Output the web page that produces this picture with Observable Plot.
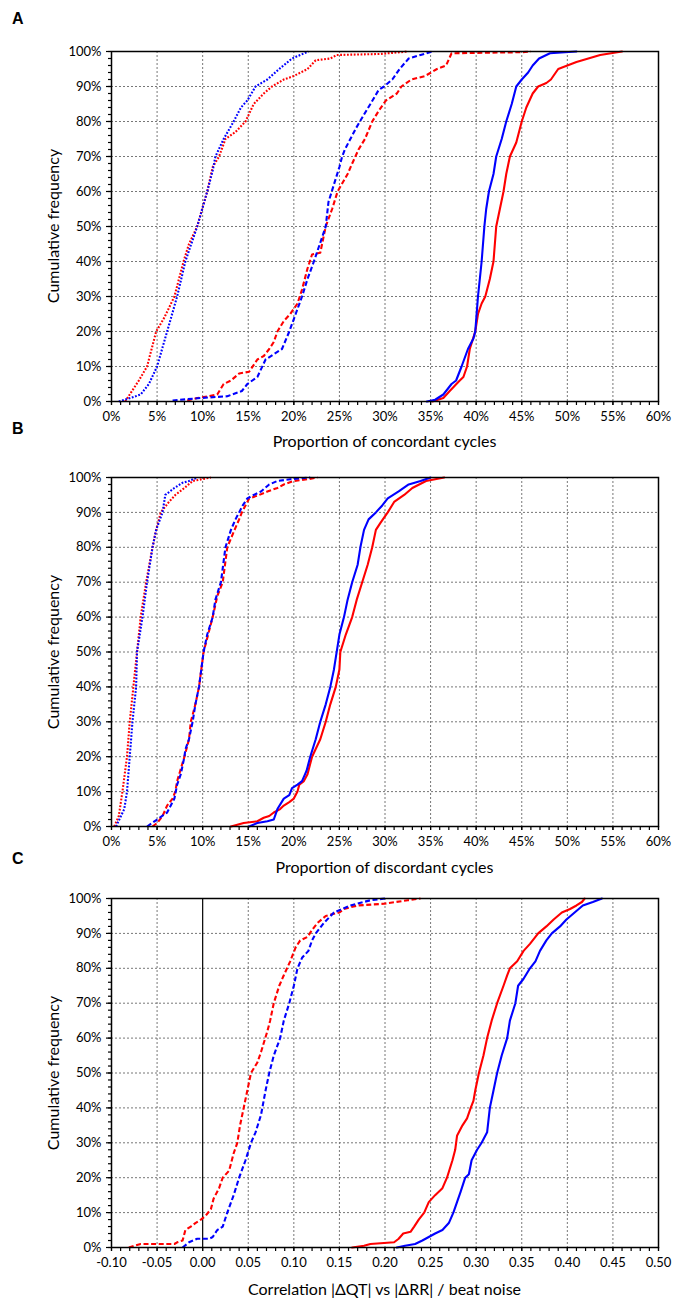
<!DOCTYPE html>
<html>
<head>
<meta charset="utf-8">
<script src="https://cdn.jsdelivr.net/npm/d3@7"></script>
<script src="https://cdn.jsdelivr.net/npm/@observablehq/plot@0.6"></script>
<style>
  html, body { margin: 0; padding: 0; background: #fff; }
  #root { position: relative; width: 673px; height: 1299px; overflow: hidden; font-family: Lato, "Open Sans", sans-serif; }
  .panel { position: absolute; left: 0; width: 673px; }
  .letter { position: absolute; left: 12px; font-family: "Liberation Sans", Arial, sans-serif; font-weight: bold; font-size: 16px; color: #000; line-height: 1; }
  .xtitle { position: absolute; left: 384.5px; transform: translate(-50%, -50%); font-size: 16px; color: #000; white-space: nowrap; line-height: 1; }
  .ytitle { position: absolute; left: 53px; transform: translate(-50%, -50%) rotate(-90deg); font-size: 16px; color: #000; white-space: nowrap; line-height: 1; }
</style>
</head>
<body>
<div id="root"></div>
<script>
// ---------- tick values ----------
const yMajor = [0, 10, 20, 30, 40, 50, 60, 70, 80, 90, 100];
const xMajorPct = [0, 5, 10, 15, 20, 25, 30, 35, 40, 45, 50, 55, 60];
const xMajorCorr = [-0.10, -0.05, 0.00, 0.05, 0.10, 0.15, 0.20, 0.25, 0.30, 0.35, 0.40, 0.45, 0.50];

// ---------- Panel A: proportion of concordant cycles (x %, cumulative %) ----------
const aRedDotted = [[1.5,0],[2,2],[3,6],[3.9,10],[4.9,20],[5.8,24],[6.9,30],[7.9,40],[8.5,45],[9.4,50],[10.5,60],[11.1,67],[11.8,70],[12.5,75],[13.6,77],[14.7,80],[15.6,85],[16.7,88],[17.6,90],[18.9,92],[20,93],[21.5,95],[22.4,97.5],[24,98],[24.7,99],[29.5,99.3],[32.5,100]];
const aBlueDotted = [[0.8,0],[2.1,1],[3.2,2],[4.1,5],[5,10],[6.1,20],[7.2,30],[8.1,40],[9.4,50],[10.5,60],[11.1,66],[11.4,70],[12.3,75],[13.4,80],[14.2,84],[14.9,86],[15.8,90],[17.1,92],[18.4,95],[19.8,98],[20.7,99],[21.6,100]];
const aBlueDashed = [[6.7,0.3],[9.8,1],[12.7,1.5],[14.3,3],[14.9,5],[16,7],[16.9,12],[18.7,15],[19.5,20],[20.2,25],[20.9,30],[21.5,35],[22.2,40],[23.5,50],[23.8,57],[24.4,62],[25,67],[25.3,70],[25.6,72],[26.2,75],[26.8,78],[27.7,82],[28.4,85],[29.3,89],[29.9,90],[30.8,92],[31.6,95],[32.6,98],[33.9,99],[35.2,100]];
const aRedDashed = [[8.3,0.3],[9.4,1],[10.7,1.5],[11.6,2],[12.3,5],[13.1,6],[14,8],[15.1,8.5],[16,12],[16.7,13],[17.3,15],[17.8,17],[18.2,20],[18.9,23],[19.6,25],[20.4,28],[20.9,32],[21.5,38],[22,42],[22.9,42.5],[23.5,50],[24.2,55],[24.8,60],[25.9,65],[26.4,68],[27.1,72],[27.8,75],[28.6,80],[29.3,83],[30.1,86],[31.3,88],[31.8,90],[32.9,92],[34.4,93],[35.7,95],[36.7,96],[37.3,99.5],[45,99.8],[46,100]];
const aBlueSolid = [[34.6,0],[35.5,0.5],[36.4,2],[37.3,5],[37.8,6],[38.4,10],[39.1,15],[39.7,18],[39.9,20],[40.2,30],[40.6,40],[40.9,50],[41.1,55],[41.4,60],[41.9,65],[42.2,70],[42.8,75],[43.3,80],[43.9,85],[44.4,90],[45,92],[45.7,94],[46.2,96],[46.9,98],[48.1,99.5],[51,100]];
const aRedSolid = [[35.2,0],[36.4,1],[37.1,3],[38.2,6],[38.6,7],[39,10],[39.3,15],[39.9,20],[40.2,25],[40.6,28],[41,30],[41.5,35],[41.9,40],[42.2,50],[42.6,55],[43,60],[43.3,65],[43.7,70],[44.4,74],[45,80],[45.5,84],[46.2,88],[46.8,90],[47.7,91],[48.2,92],[49,95],[50,96],[51,97],[52.3,98],[53.6,99],[56,100]];

// ---------- Panel B: proportion of discordant cycles ----------
const bRedDotted = [[0.3,0],[0.8,3],[1.2,10],[1.7,20],[2,30],[2.4,40],[2.8,50],[3.2,60],[3.8,70],[4.5,80],[4.9,85],[5.4,90],[6.3,93],[7,95],[8,97],[8.9,99],[10.9,100]];
const bBlueDotted = [[0.5,0],[1.4,5],[1.7,10],[2,20],[2.3,30],[2.7,40],[2.8,50],[3.4,60],[3.9,70],[4.5,80],[4.9,85],[5.6,90],[5.9,95],[6.9,97],[7.8,98.5],[8.5,99],[9.4,100]];
const bBlueDashed = [[3.9,0],[5,2],[6.1,4],[6.9,8],[7.2,12],[7.6,15],[8,20],[8.1,22],[8.5,25],[8.9,30],[9.2,35],[9.6,40],[10.1,50],[10.5,55],[11.1,60],[11.4,65],[12,70],[12.5,80],[13.1,85],[13.6,88],[14,90],[14.4,92],[14.9,94],[15.6,95],[16.4,96],[17.3,98],[18.2,99],[19.6,99.5],[21.8,100]];
const bRedDashed = [[4.5,0],[5,1],[5.6,3],[6.1,6],[6.7,8],[7,10],[7.2,13],[8,20],[8.5,25],[8.7,30],[9.2,35],[9.6,40],[10.1,50],[10.7,56],[11.1,60],[11.6,66],[12.2,70],[12.7,80],[13.5,85],[14,88],[14.3,90],[15.1,94],[16.2,95],[17.1,96],[18.2,97],[18.9,98],[20,99],[21.5,99.5],[22.6,100]];
const bRedSolid = [[13.1,0],[14.5,1],[16,1.5],[16.7,2.5],[17.3,3],[17.8,4],[18.5,5],[18.9,6],[19.5,7],[20,8],[20.4,10],[20.6,12],[21.1,13],[21.5,15],[22,20],[22.9,25],[23.5,30],[24,35],[24.6,40],[25,45],[25.1,50],[25.7,55],[26.4,60],[26.9,65],[27.5,70],[28.1,75],[28.6,80],[29,85],[29.5,87],[30.3,90],[31,93],[32.1,95],[33,97],[34.5,99],[36.5,100]];
const bBlueSolid = [[15.1,0],[16,1],[17.1,1.5],[17.8,2],[18.2,5],[18.9,8],[19.5,9],[19.8,11],[20.4,12],[20.9,13],[21.4,16],[21.8,20],[22.4,25],[22.9,30],[23.5,35],[24,40],[24.4,45],[25,55],[25.5,60],[25.9,65],[26.4,70],[27,75],[27.3,80],[27.7,85],[28.2,88],[29,90],[29.7,92],[30.3,94],[31.5,96],[32.6,98],[33.9,99],[35,100]];

// ---------- Panel C: correlation |dQT| vs |dRR| / beat noise ----------
const cRedDashed = [[-0.081,0],[-0.075,0.5],[-0.068,1],[-0.031,1],[-0.028,1.5],[-0.022,2],[-0.019,5],[-0.013,6],[-0.008,7],[-0.002,8],[0.003,9],[0.009,11],[0.012,14],[0.018,17],[0.022,20],[0.029,22],[0.034,27],[0.038,30],[0.041,35],[0.045,40],[0.049,45],[0.053,50],[0.060,53],[0.064,56],[0.071,62],[0.074,65],[0.078,70],[0.084,75],[0.089,78],[0.096,82],[0.102,86],[0.107,88],[0.115,89],[0.120,91],[0.126,93],[0.135,95],[0.150,96],[0.155,97],[0.170,98],[0.199,98.5],[0.225,99.5],[0.239,100]];
const cBlueDashed = [[-0.022,0],[-0.015,1.5],[-0.006,2.5],[0.007,2.5],[0.011,3],[0.016,5],[0.022,6],[0.027,10],[0.034,15],[0.040,20],[0.047,25],[0.053,30],[0.058,33],[0.064,38],[0.069,45],[0.073,50],[0.078,55],[0.085,60],[0.089,65],[0.095,70],[0.100,75],[0.104,80],[0.109,83],[0.116,85],[0.120,88],[0.124,90],[0.133,93],[0.144,96],[0.162,98],[0.184,99.5],[0.200,100]];
const cRedSolid = [[0.164,0],[0.177,0.5],[0.184,1],[0.210,1.5],[0.215,2.5],[0.220,4],[0.228,4.5],[0.232,6],[0.237,8],[0.243,10],[0.248,13],[0.255,15],[0.263,17],[0.268,20],[0.274,25],[0.277,28],[0.279,32],[0.285,35],[0.290,37],[0.294,40],[0.297,42],[0.299,45],[0.303,50],[0.308,55],[0.312,60],[0.317,65],[0.323,70],[0.330,75],[0.334,78],[0.337,80],[0.345,82],[0.352,85],[0.359,87],[0.368,90],[0.377,92],[0.385,94],[0.394,96],[0.403,97],[0.410,98],[0.416,99],[0.419,100]];
const cBlueSolid = [[0.213,0],[0.222,0.5],[0.233,1],[0.241,2],[0.248,3],[0.255,4],[0.263,5],[0.270,7],[0.275,10],[0.279,13],[0.283,16],[0.288,20],[0.292,21],[0.295,25],[0.301,28],[0.306,30],[0.312,33],[0.315,40],[0.319,45],[0.323,50],[0.328,55],[0.334,60],[0.337,65],[0.343,70],[0.346,75],[0.352,77],[0.359,80],[0.365,82],[0.370,85],[0.377,88],[0.383,90],[0.392,92],[0.399,94],[0.408,96],[0.417,98],[0.428,99],[0.438,100]];

// ---------- styles ----------
const BLUE = "#0000ff", RED = "#ff0000";
const DOT = "1.8,1.6", DASH = "5,2.6";
const FONT = "Lato, 'Open Sans', sans-serif";

const panels = [
  {letter: "A", letterTop: 11, top: 0, height: 455, mt: 51, mb: 54, domain: [0, 60], major: xMajorPct, minor: d3.range(0, 61, 1), fmt: d => d + "%",
   label: "Proportion of concordant cycles", labelY: 441, zero: false,
   series: [[aRedDotted, RED, DOT], [aBlueDotted, BLUE, DOT], [aRedDashed, RED, DASH], [aBlueDashed, BLUE, DASH], [aRedSolid, RED, null], [aBlueSolid, BLUE, null]]},
  {letter: "B", letterTop: 421, top: 455, height: 425, mt: 22, mb: 54, domain: [0, 60], major: xMajorPct, minor: d3.range(0, 61, 1), fmt: d => d + "%",
   label: "Proportion of discordant cycles", labelY: 867, zero: false,
   series: [[bRedDotted, RED, DOT], [bBlueDotted, BLUE, DOT], [bRedDashed, RED, DASH], [bBlueDashed, BLUE, DASH], [bRedSolid, RED, null], [bBlueSolid, BLUE, null]]},
  {letter: "C", letterTop: 851, top: 880, height: 419, mt: 18, mb: 52, domain: [-0.10, 0.50], major: xMajorCorr, minor: d3.range(-10, 51, 1).map(d => d / 100), fmt: d => d.toFixed(2),
   label: "Correlation |\u0394QT| vs |\u0394RR| / beat noise", labelY: 1289, zero: true,
   series: [[cRedDashed, RED, DASH], [cBlueDashed, BLUE, DASH], [cRedSolid, RED, null], [cBlueSolid, BLUE, null]]}
];

const root = document.getElementById("root");

for (const p of panels) {
  const div = document.createElement("div");
  div.className = "panel";
  div.style.top = p.top + "px";
  div.style.height = p.height + "px";

  const marks = [
    Plot.gridX(p.zero ? p.major.filter(d => d !== 0) : p.major, {stroke: "#777", strokeOpacity: 1, strokeWidth: 1, strokeDasharray: "2,2"}),
    Plot.gridY(yMajor, {stroke: "#777", strokeOpacity: 1, strokeWidth: 1, strokeDasharray: "2,2"}),
  ];
  if (p.zero) marks.push(Plot.ruleX([0], {stroke: "#000", strokeWidth: 1.2}));
  for (const [data, color, dash] of p.series) {
    marks.push(Plot.line(data, {x: d => d[0], y: d => d[1], stroke: color, strokeWidth: 2.1, strokeDasharray: dash ?? undefined, strokeLinejoin: "round", strokeLinecap: dash ? "butt" : "round"}));
  }
  marks.push(
    Plot.frame({stroke: "#000", strokeWidth: 1.5}),
    Plot.axisY(d3.range(0, 101, 2), {anchor: "left", tickSize: 3, tickFormat: () => "", label: null, strokeWidth: 1.2}),
    Plot.axisY(yMajor, {anchor: "left", tickSize: 5, tickPadding: 5, tickFormat: d => d + "%", fontSize: 13, label: null, strokeWidth: 1.2}),
    Plot.axisX(p.minor, {anchor: "bottom", tickSize: 4, tickFormat: () => "", label: null, strokeWidth: 1.2}),
    Plot.axisX(p.major, {anchor: "bottom", tickSize: 4, tickPadding: 6, tickFormat: p.fmt, fontSize: 13, label: null, strokeWidth: 1.2})
  );

  const chart = Plot.plot({
    width: 673,
    height: p.height,
    marginLeft: 111,
    marginRight: 15,
    marginTop: p.mt,
    marginBottom: p.mb,
    style: {fontFamily: FONT, fontSize: "13px", color: "#000", background: "#fff", overflow: "visible"},
    x: {domain: p.domain},
    y: {domain: [0, 100]},
    marks
  });
  div.appendChild(chart);
  root.appendChild(div);

  const L = document.createElement("div");
  L.className = "letter";
  L.style.top = p.letterTop + "px";
  L.textContent = p.letter;
  root.appendChild(L);

  const xt = document.createElement("div");
  xt.className = "xtitle";
  xt.style.top = p.labelY + "px";
  xt.textContent = p.label;
  root.appendChild(xt);

  const yt = document.createElement("div");
  yt.className = "ytitle";
  yt.style.top = (p.top + p.mt + (p.height - p.mt - p.mb) / 2) + "px";
  yt.textContent = "Cumulative frequency";
  root.appendChild(yt);
}
</script>
</body>
</html>
